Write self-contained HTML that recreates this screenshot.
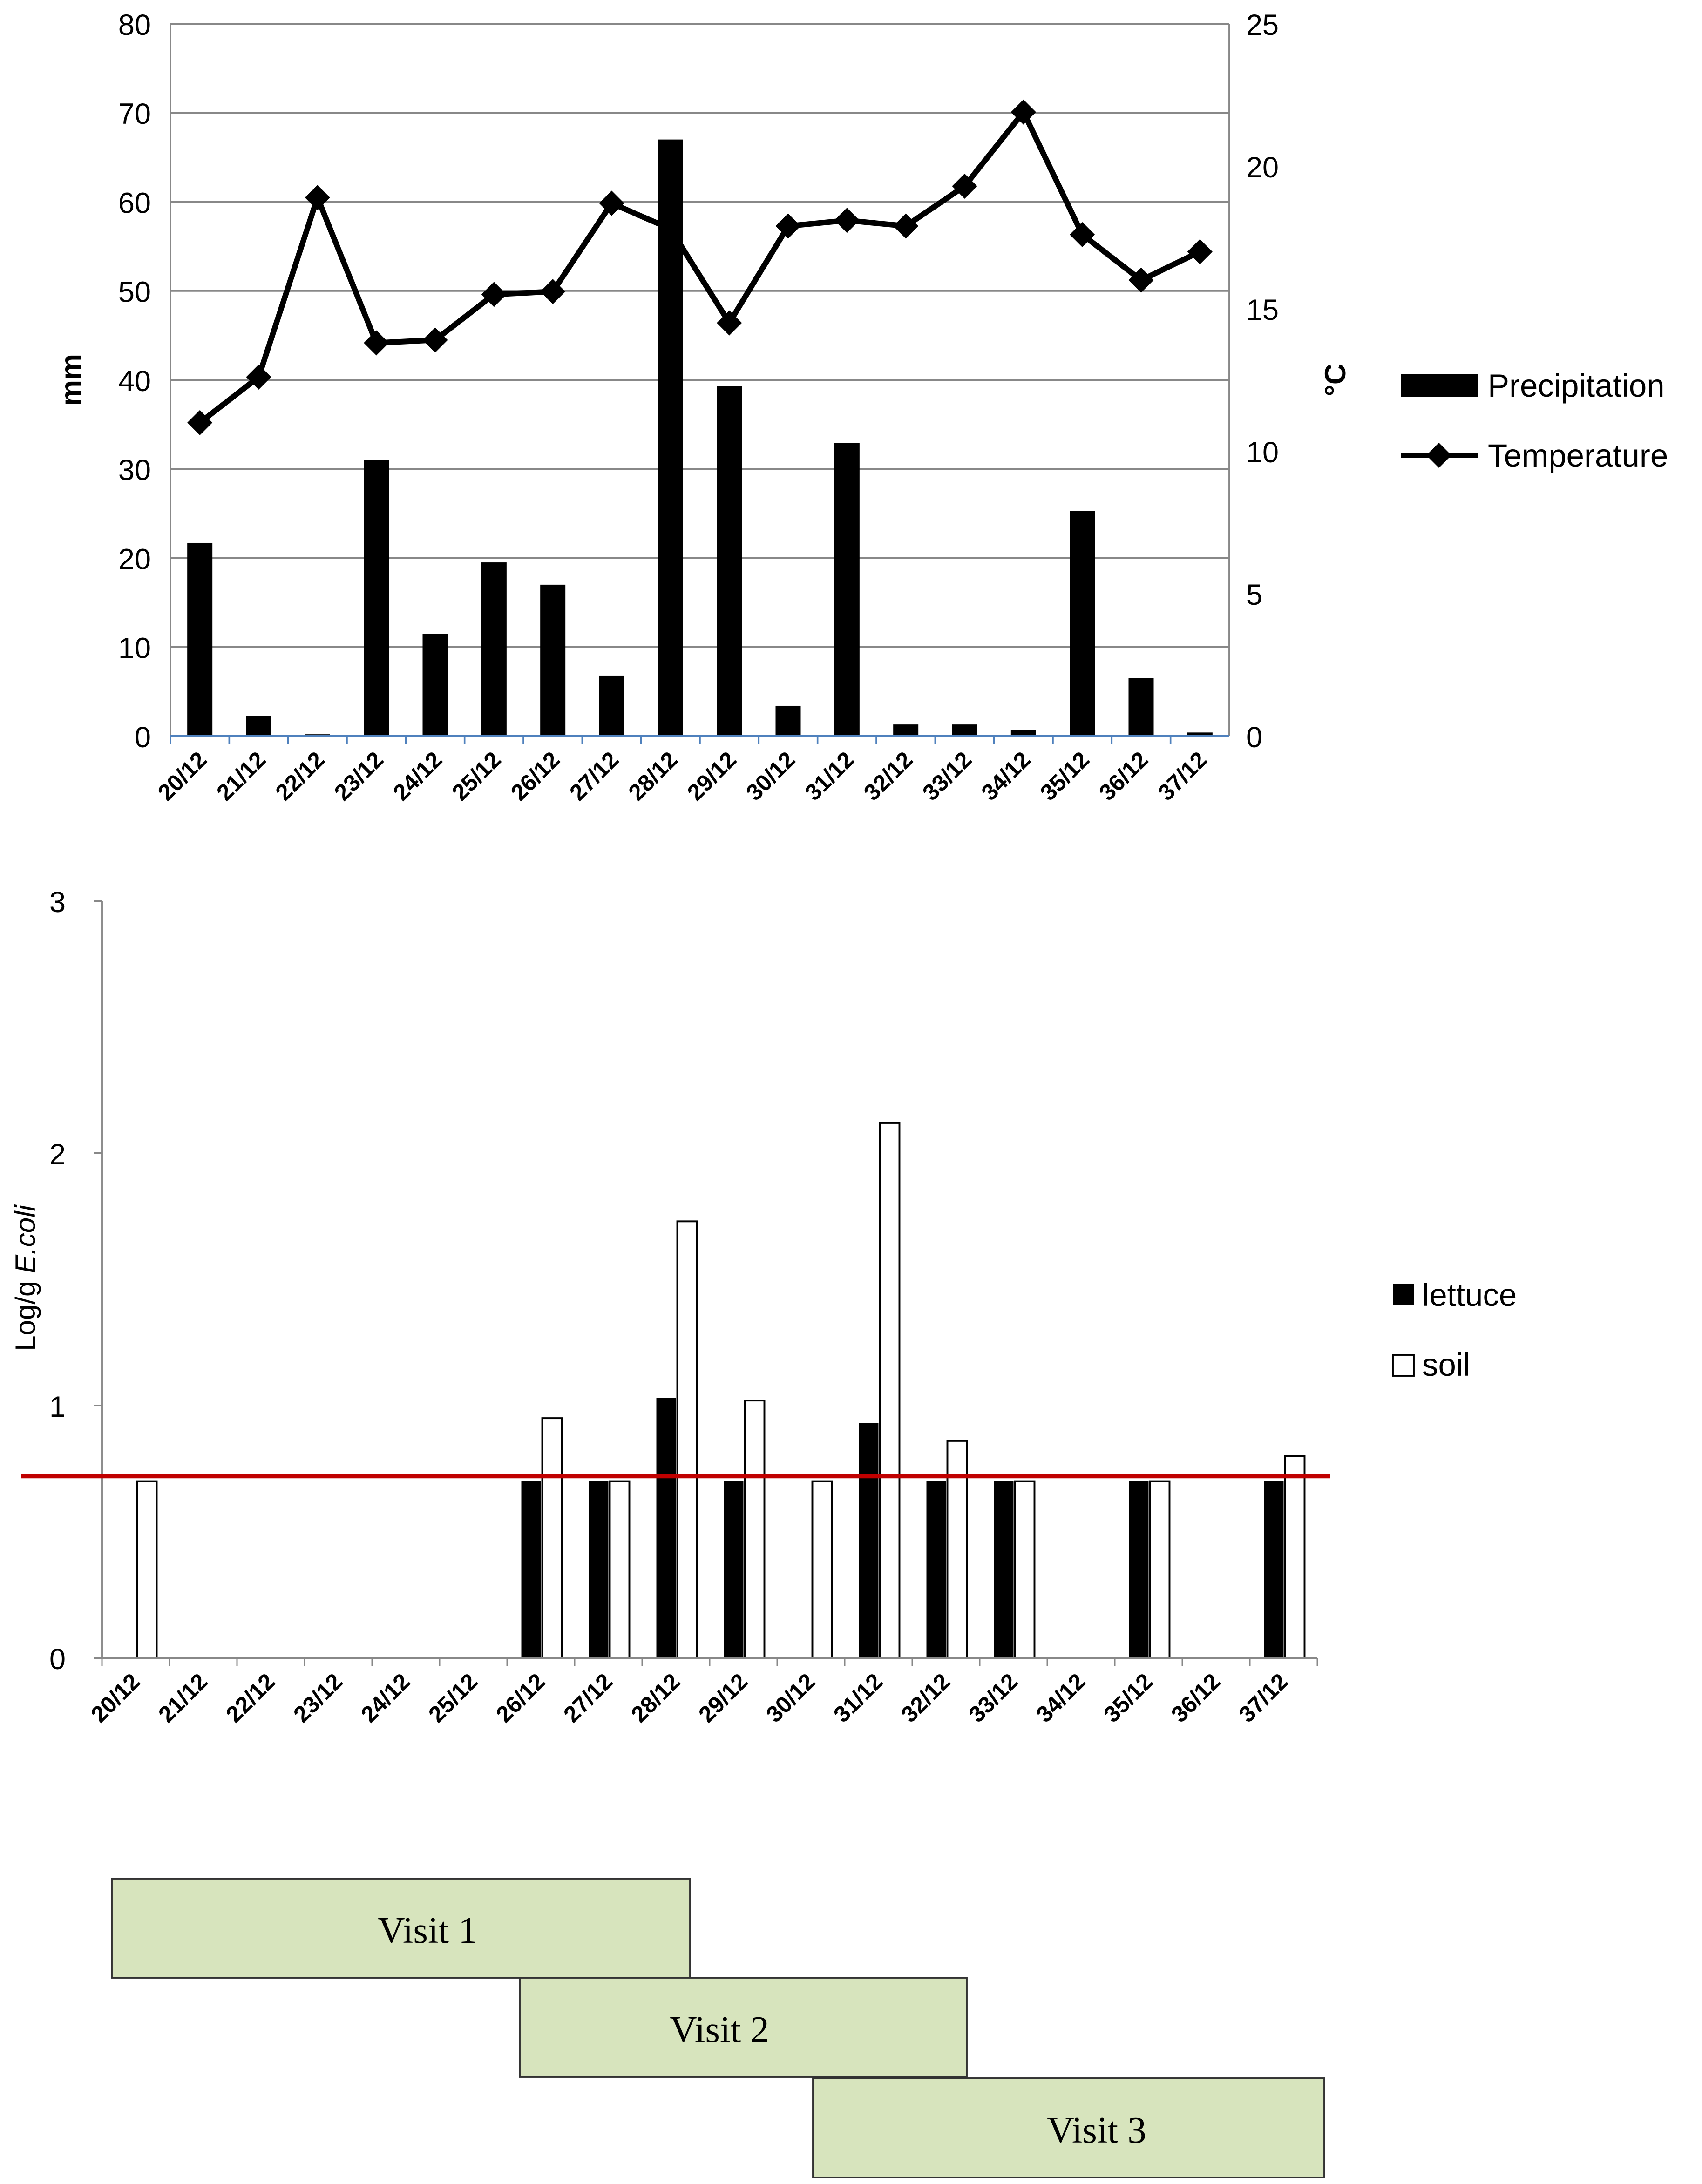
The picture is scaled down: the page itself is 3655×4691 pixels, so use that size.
<!DOCTYPE html>
<html><head><meta charset="utf-8"><style>
html,body{margin:0;padding:0;background:#fff;}
svg{display:block;}
text{font-family:"Liberation Sans",sans-serif;}
</style></head><body>
<svg id="c" width="3655" height="4691" viewBox="0 0 1218.33 1563.67" xmlns="http://www.w3.org/2000/svg">
<g id="top"></g>
<g id="bot"></g>
<g id="visits"></g>
</svg>
<script>
const categories=["20/12","21/12","22/12","23/12","24/12","25/12","26/12","27/12","28/12","29/12","30/12","31/12","32/12","33/12","34/12","35/12","36/12","37/12"];
const precipitation=[21.7,2.3,0.2,31,11.5,19.5,17,6.8,67,39.3,3.4,32.9,1.3,1.3,0.7,25.3,6.5,0.4];
const temperature=[11.0,12.6,18.9,13.8,13.9,15.5,15.6,18.7,17.8,14.5,17.9,18.1,17.9,19.3,21.9,17.6,16.0,17.0];
const mmTicks=[0,10,20,30,40,50,60,70,80];
const cTicks=[0,5,10,15,20,25];
const lettuce=[null,null,null,null,null,null,0.7,0.7,1.03,0.7,null,0.93,0.7,0.7,null,0.7,null,0.7];
const soil=[0.7,null,null,null,null,null,0.95,0.7,1.73,1.02,0.7,2.12,0.86,0.7,null,0.7,null,0.8];
const logTicks=[0,1,2,3];
const detectionLimit=0.72;
const NS="http://www.w3.org/2000/svg";
function mk(parent,tag,attrs,text){const e=document.createElementNS(NS,tag);for(const k in attrs)e.setAttribute(k,attrs[k]);if(text!==undefined)e.textContent=text;parent.appendChild(e);return e;}
// top chart
const T=document.getElementById('top');
const tL=122,tR=880,tTop=17,tBot=527;
const cw=(tR-tL)/categories.length;
const xT=i=>tL+cw*(i+0.5);
const yMM=v=>tBot-(v/80)*(tBot-tTop);
const yC=v=>tBot-(v/25)*(tBot-tTop);
mmTicks.forEach(v=>{
 if(v>0){let l=mk(T,'line',{x1:tL,x2:tR,y1:yMM(v),y2:yMM(v),stroke:'#888','stroke-width':1.3});
 }
 let t=mk(T,'text',{x:tL-14,y:yMM(v)+8,'text-anchor':'end','font-size':21},v);
 
});
cTicks.forEach(v=>{let t=mk(T,'text',{x:tR+12,y:yC(v)+8,'font-size':21},v);
 });
mk(T,'line',{x1:tL,x2:tL,y1:tTop,y2:tBot,stroke:'#888','stroke-width':1.3});
mk(T,'line',{x1:tR,x2:tR,y1:tTop,y2:tBot,stroke:'#888','stroke-width':1.3});
precipitation.forEach((v,i)=>{let r=mk(T,'rect',{x:xT(i)-9,y:yMM(v),width:18,height:tBot-yMM(v),fill:'#000'});
 });
mk(T,'line',{x1:tL,x2:tR,y1:tBot,y2:tBot,stroke:'#4f81bd','stroke-width':1.5});
categories.forEach((c,i)=>{mk(T,'line',{x1:tL+cw*i,x2:tL+cw*i,y1:tBot,y2:tBot+6,stroke:'#4f81bd','stroke-width':1.2});
 let t=mk(T,'text',{x:xT(i)+6,y:tBot+18,'text-anchor':'end','font-size':16.5,'font-weight':'bold',transform:`rotate(-45 ${xT(i)+6} ${tBot+18})`},c);
 });
let pts=temperature.map((v,i)=>xT(i)+','+yC(v)).join(' ');
let pl=mk(T,'polyline',{points:pts,fill:'none',stroke:'#000','stroke-width':4});

temperature.forEach((v,i)=>{let x=xT(i),y=yC(v);let d=mk(T,'polygon',{points:`${x},${y-9} ${x+9},${y} ${x},${y+9} ${x-9},${y}`,fill:'#000'});
 });
let ya=mk(T,'text',{x:58,y:272,'text-anchor':'middle','font-size':21,'font-weight':'bold',transform:'rotate(-90 58 272)'},'mm');

let yb=mk(T,'text',{x:963,y:272,'text-anchor':'middle','font-size':21,'font-weight':'bold',transform:'rotate(-90 963 272)'},'°C');

mk(T,'rect',{x:1003,y:268,width:55,height:16,fill:'#000'});
let lg1=mk(T,'text',{x:1065,y:284,'font-size':23},'Precipitation');

mk(T,'line',{x1:1003,x2:1058,y1:326,y2:326,stroke:'#000','stroke-width':4});
mk(T,'polygon',{points:'1030,317 1039,326 1030,335 1021,326',fill:'#000'});
let lg2=mk(T,'text',{x:1065,y:334,'font-size':23},'Temperature');

// bottom chart
const B=document.getElementById('bot');
const bL=73,bR=943,bTop=645,bBot=1187;
const bw=(bR-bL)/categories.length;
const xB=i=>bL+bw*(i+0.5);
const yL=v=>bBot-(v/3)*(bBot-bTop);
mk(B,'line',{x1:bL,x2:bL,y1:bTop,y2:bBot,stroke:'#888','stroke-width':1.3});
logTicks.forEach(v=>{mk(B,'line',{x1:bL-6,x2:bL,y1:yL(v),y2:yL(v),stroke:'#888','stroke-width':1.3});
 let t=mk(B,'text',{x:bL-26,y:yL(v)+8,'text-anchor':'end','font-size':21},v);
 });
lettuce.forEach((v,i)=>{if(v===null)return;let r=mk(B,'rect',{x:xB(i)-14,y:yL(v),width:14,height:bBot-yL(v),fill:'#000'});
 });
soil.forEach((v,i)=>{if(v===null)return;let r=mk(B,'rect',{x:xB(i)+1,y:yL(v),width:14,height:bBot-yL(v),fill:'#fff',stroke:'#000','stroke-width':1.3});
 });
mk(B,'line',{x1:bL,x2:bR,y1:bBot,y2:bBot,stroke:'#888','stroke-width':1.3});
categories.forEach((c,i)=>{mk(B,'line',{x1:bL+bw*i,x2:bL+bw*i,y1:bBot,y2:bBot+6,stroke:'#888'});
 let t=mk(B,'text',{x:xB(i)+4,y:bBot+18,'text-anchor':'end','font-size':16.5,'font-weight':'bold',transform:`rotate(-45 ${xB(i)+4} ${bBot+18})`},c);
 });
mk(B,'line',{x1:bR,x2:bR,y1:bBot,y2:bBot+6,stroke:'#888'});
let rl=mk(B,'line',{x1:15,x2:952,y1:yL(detectionLimit),y2:yL(detectionLimit),stroke:'#c00000','stroke-width':3});

let bt=mk(B,'text',{x:25,y:915,'text-anchor':'middle','font-size':20,transform:'rotate(-90 25 915)'});

mk(bt,'tspan',{},'Log/g ');mk(bt,'tspan',{'font-style':'italic'},'E.coli');
mk(B,'rect',{x:997,y:919,width:15,height:15,fill:'#000'});
let l3=mk(B,'text',{x:1018,y:935,'font-size':23},'lettuce');

mk(B,'rect',{x:997,y:970,width:15,height:15,fill:'#fff',stroke:'#000','stroke-width':1.3});
let l4=mk(B,'text',{x:1018,y:985,'font-size':23},'soil');

// visits
const V=document.getElementById('visits');
[[80,1345,414,'Visit 1','visit-1',306],[372,1416,320,'Visit 2','visit-2',515],[582,1488,366,'Visit 3','visit-3',785]].forEach(b=>{
 let r=mk(V,'rect',{x:b[0],y:b[1],width:b[2],height:71,fill:'#d7e4bd',stroke:'#333','stroke-width':1.3});
 
 let t=mk(V,'text',{x:b[5],y:b[1]+46,'text-anchor':'middle','font-size':27,style:'font-family:"Liberation Serif",serif'},b[3]);
 
});
</script>
</body></html>
